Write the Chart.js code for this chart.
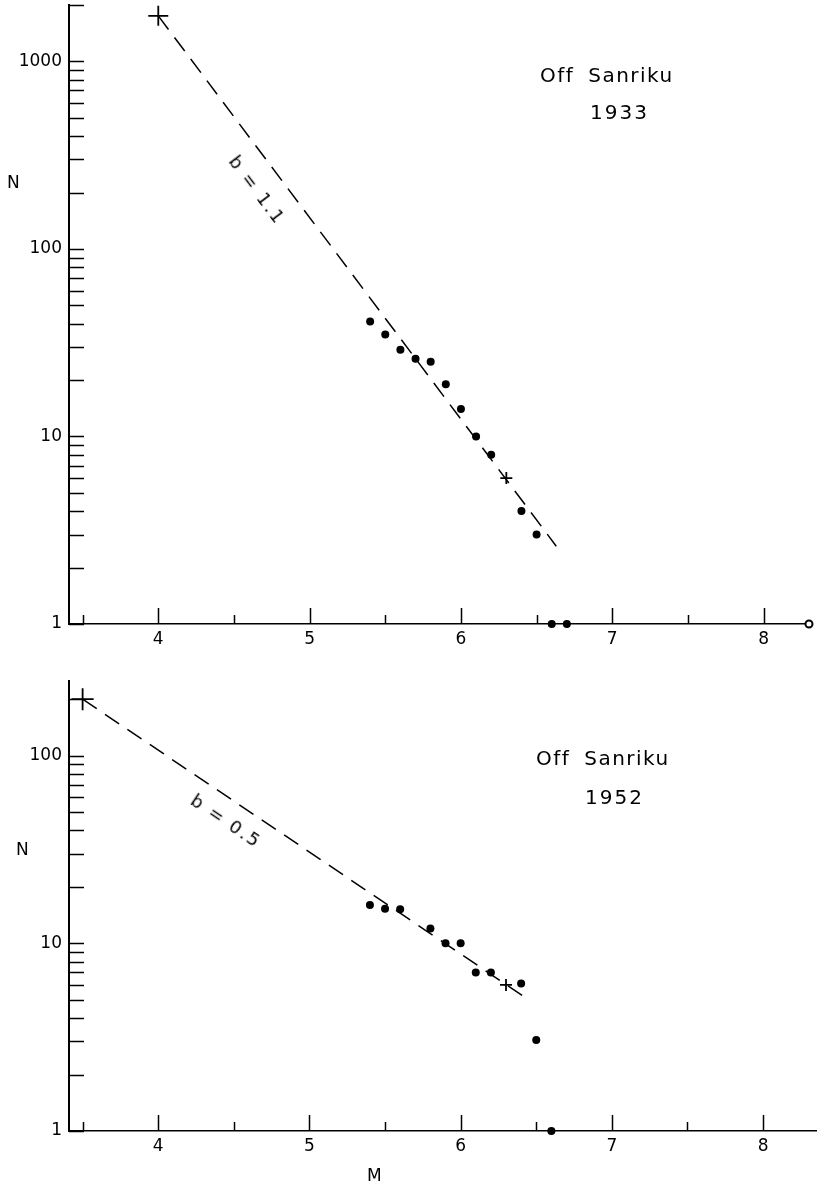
<!DOCTYPE html>
<html><head><meta charset="utf-8">
<script src="https://cdn.jsdelivr.net/npm/chart.js@4/dist/chart.umd.min.js"></script>
<style>
html,body{margin:0;padding:0;background:#fff;}
#wrap{position:relative;width:817px;height:1186px;overflow:hidden;font-family:'DejaVu Sans',sans-serif;color:#000;}
canvas{position:absolute;left:0;}
.t{position:absolute;white-space:pre;line-height:1;}
.r{position:absolute;white-space:pre;line-height:1;transform-origin:50% 50%;}
</style></head><body>
<div id="wrap">
<canvas id="c1" width="817" height="660" style="top:0px"></canvas>
<canvas id="c2" width="817" height="526" style="top:660px"></canvas>

<div class="t" style="left:540px;top:65px;font-size:20px;letter-spacing:1.5px;word-spacing:6px">Off Sanriku</div>
<div class="t" style="left:590px;top:102px;font-size:20px;letter-spacing:2px">1933</div>
<div class="t" style="left:7px;top:174px;font-size:17px">N</div>
<div class="r" style="left:257px;top:190px;font-size:18px;letter-spacing:2px;transform:translate(-50%,-50%) rotate(53deg)">b = 1.1</div>

<div class="t" style="left:536px;top:748px;font-size:20px;letter-spacing:1.5px;word-spacing:6px">Off Sanriku</div>
<div class="t" style="left:585px;top:787px;font-size:20px;letter-spacing:2px">1952</div>
<div class="t" style="left:16px;top:841px;font-size:17px">N</div>
<div class="t" style="left:367px;top:1167px;font-size:17px">M</div>
<div class="r" style="left:226px;top:821px;font-size:18px;letter-spacing:2px;transform:translate(-50%,-50%) rotate(34deg)">b = 0.5</div>
</div>
<script>
// ---- data (1933) ----
const M_1933 = [5.4, 5.5, 5.6, 5.7, 5.8, 5.9, 6.0, 6.1, 6.2, 6.4, 6.5, 6.6, 6.7];
const N_1933 = [41, 35, 29, 26, 25, 19, 14, 10, 8, 4, 3, 1, 1];
const CROSS_M_1933 = [4.0, 6.3];
const CROSS_N_1933 = [1750, 6];
const OPEN_M_1933 = [8.3];
const OPEN_N_1933 = [1];
const FIT_M_1933 = [4.0, 6.63];
const FIT_N_1933 = [1750, 2.6];
// ---- data (1952) ----
const M_1952 = [5.4, 5.5, 5.6, 5.8, 5.9, 6.0, 6.1, 6.2, 6.4, 6.5, 6.6];
const N_1952 = [16, 15.3, 15.2, 12, 10, 10, 7, 7, 6.1, 3.05, 1];
const CROSS_M_1952 = [3.5, 6.3];
const CROSS_N_1952 = [200, 6];
const FIT_M_1952 = [3.5, 6.45];
const FIT_N_1952 = [200, 5];
// ---- tick labels ----
const X_LABELS = [4, 5, 6, 7, 8];
const Y_LABELS_1933 = [1, 10, 100, 1000];
const Y_LABELS_1952 = [1, 10, 100];

const pts = (xs, ys) => xs.map((v, i) => ({x: v, y: ys[i]}));

const inwardTicks = {
  id: 'inwardTicks',
  beforeDatasetsDraw(chart) {
    const {ctx, chartArea: a, scales: {x, y}} = chart;
    ctx.save();
    ctx.strokeStyle = '#000';
    ctx.lineWidth = 1.5;
    ctx.beginPath();
    for (let d = 0; d <= 4; d++) {
      for (let m = 1; m <= 9; m++) {
        const v = m * Math.pow(10, d);
        if (v < y.min - 1e-9 || v > y.max + 1e-9) continue;
        const py = Math.round(y.getPixelForValue(v)) + 0.5;
        ctx.moveTo(a.left, py); ctx.lineTo(a.left + 15, py);
      }
    }
    for (let k = 7; k * 0.5 <= x.max; k++) {
      const v = k * 0.5;
      const px = Math.round(x.getPixelForValue(v)) + 0.5;
      const L = (k % 2 === 0) ? 16 : 9;
      ctx.moveTo(px, a.bottom); ctx.lineTo(px, a.bottom - L);
    }
    ctx.stroke();
    ctx.restore();
  }
};

function makeChart(id, cfg) {
  const font = {family: "'DejaVu Sans', sans-serif", size: 17};
  const datasets = [
    {data: pts(cfg.fitM, cfg.fitN), showLine: true, pointRadius: 0, borderColor: '#000',
     borderWidth: 1.5, borderDash: [17, 10], fill: false, clip: false, order: 3},
    {data: pts(cfg.m, cfg.n), pointStyle: 'circle', pointRadius: 4, backgroundColor: '#000',
     borderColor: '#000', borderWidth: 0, clip: false, order: 1},
    {data: pts(cfg.crossM, cfg.crossN), pointStyle: 'cross', pointRadius: cfg.crossR,
     borderColor: '#000', borderWidth: 1.8, clip: false, order: 2}
  ];
  if (cfg.openM) {
    datasets.push({data: pts(cfg.openM, cfg.openN), pointStyle: 'circle', pointRadius: 3.5,
      backgroundColor: '#fff', borderColor: '#000', borderWidth: 2, clip: false, order: 0});
  }
  return new Chart(document.getElementById(id), {
    type: 'scatter',
    data: {datasets},
    plugins: [inwardTicks],
    options: {
      responsive: false,
      animation: false,
      events: [],
      layout: {padding: cfg.padding, autoPadding: false},
      plugins: {legend: {display: false}, tooltip: {enabled: false}},
      scales: {
        x: {
          type: 'linear', min: 3.41, max: cfg.xMax,
          grid: {display: false, drawTicks: false},
          border: {display: true, color: '#000', width: 1.5},
          ticks: {color: '#000', font, padding: 5, maxRotation: 0, callback: v => String(v)},
          afterBuildTicks: s => { s.ticks = X_LABELS.map(v => ({value: v})); },
          afterFit: s => { s.height = cfg.xHeight; s.paddingLeft = 0; s.paddingRight = 0; }
        },
        y: {
          type: 'logarithmic', min: 1, max: cfg.yMax,
          grid: {display: false, drawTicks: false},
          border: {display: true, color: '#000', width: 2},
          ticks: {color: '#000', font, padding: 7, callback: v => String(v)},
          afterBuildTicks: s => { s.ticks = cfg.yLabels.map(v => ({value: v})); },
          afterFit: s => { s.width = 69; s.paddingTop = 0; s.paddingBottom = 0; }
        }
      }
    }
  });
}

makeChart('c1', {
  m: M_1933, n: N_1933, crossM: CROSS_M_1933, crossN: CROSS_N_1933, crossR: [10, 6],
  openM: OPEN_M_1933, openN: OPEN_N_1933, fitM: FIT_M_1933, fitN: FIT_N_1933,
  yMax: 2000, xMax: 8.32, yLabels: Y_LABELS_1933,
  padding: {top: 5, right: 5, left: 0, bottom: 0}, xHeight: 36
});
makeChart('c2', {
  m: M_1952, n: N_1952, crossM: CROSS_M_1952, crossN: CROSS_N_1952, crossR: [11, 6],
  fitM: FIT_M_1952, fitN: FIT_N_1952,
  yMax: 250, xMax: 8.35, yLabels: Y_LABELS_1952,
  padding: {top: 21, right: 1, left: 0, bottom: 0}, xHeight: 55
});
</script>
</body></html>
